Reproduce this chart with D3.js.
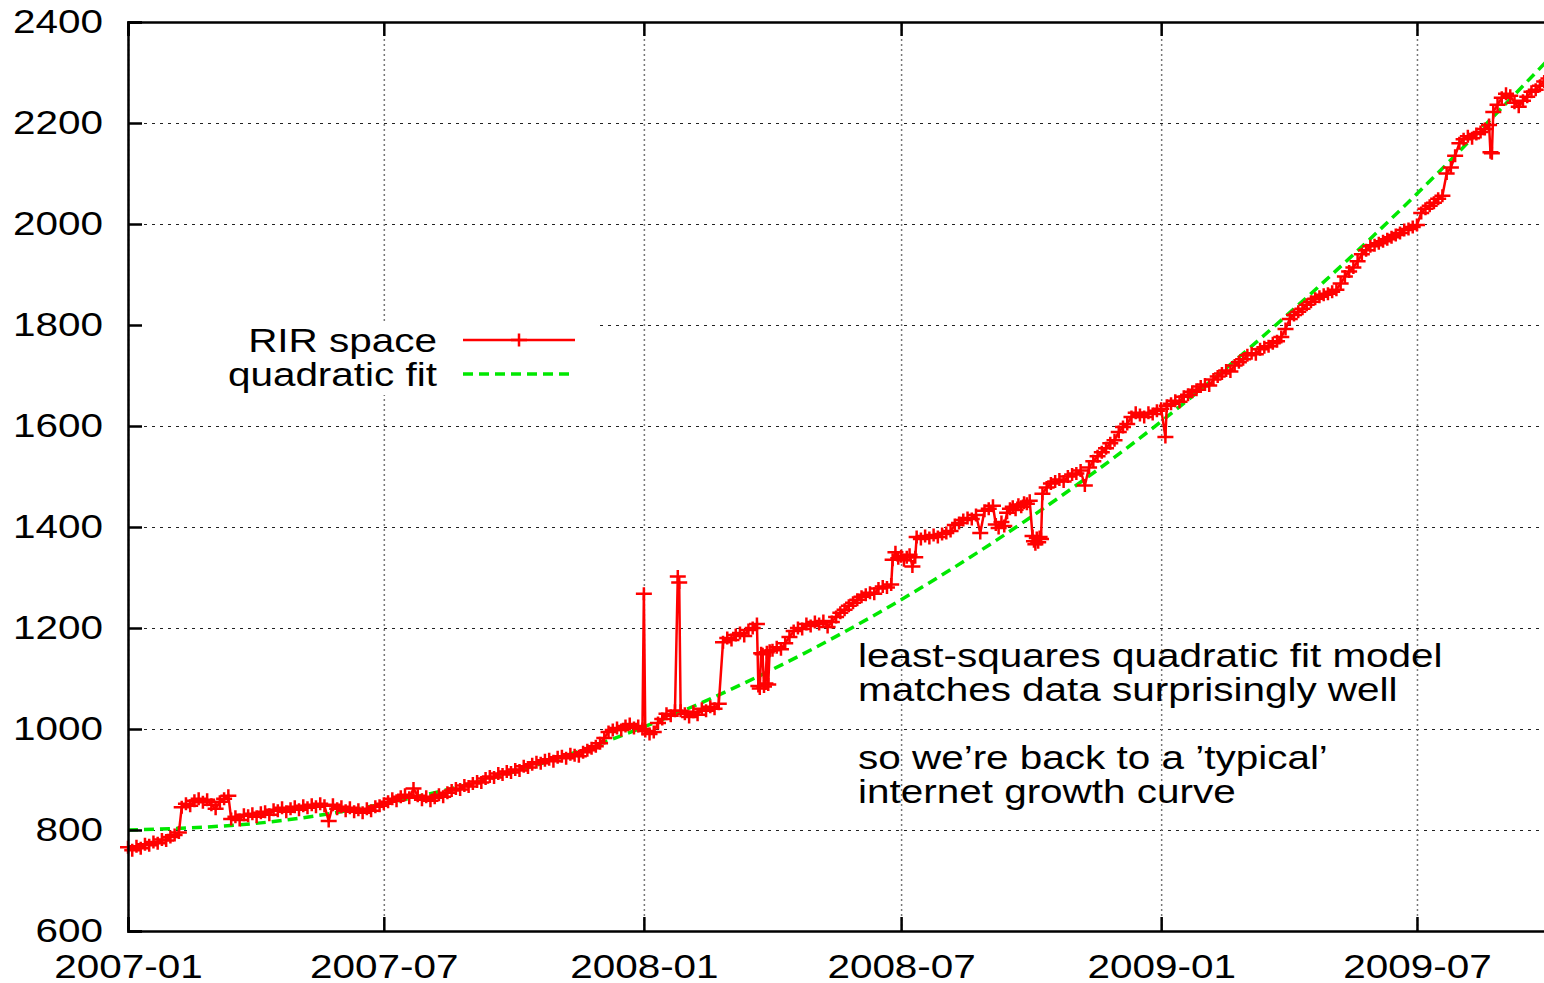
<!DOCTYPE html>
<html>
<head>
<meta charset="utf-8">
<script src="https://cdn.jsdelivr.net/npm/d3@7"></script>
<style>
    body { margin: 0; background: #fff; }
    text { font-family: "Liberation Sans", Arial, Helvetica, sans-serif; fill: #000; }
</style>
</head>
<body>
<script>
// RIR address space: each run starts on a day and
// has one reading every `step` days
const rirSegments = [
    {start: "2007-01-01", step: 3, values: [766, 760, 768, 764, 772, 770, 776, 774, 781, 779, 786, 790, 795]},
    {start: "2007-02-08", step: 3, values: [845, 852, 848, 858, 862, 855, 860, 850, 842, 856, 862, 868]},
    {start: "2007-03-15", step: 3, values: [
        822, 826, 820, 830, 828, 832,
        826, 834, 836, 830, 840, 838, 844, 836, 842, 846,
        840, 848, 844, 850, 846, 852, 848, 818, 850, 842,
        846, 838, 844, 836, 840, 834, 842, 838, 846, 848,
        852, 856, 862, 858, 866, 870, 864, 882, 868, 860, 866,
        858, 864, 870, 866, 874, 878, 882, 880, 888, 886,
        892, 896, 894, 902, 906, 904, 912, 910, 916, 914,
        920, 918, 926, 924, 930, 934, 932, 938, 940, 936,
        944, 946, 942, 950, 948, 946, 954, 958, 962, 966,
        972, 982, 994, 998, 1002, 998, 1006, 1010, 1002, 1006, 1000]},
    {start: "2008-01-01", step: 1, values: [1268]},
    {start: "2008-01-02", step: 3, values: [996, 990, 994, 1012, 1020, 1030, 1026, 1036]},
    {start: "2008-01-25", step: 1, values: [1302, 1290]},
    {start: "2008-01-27", step: 3, values: [1036, 1030, 1024, 1034, 1028, 1040, 1036, 1044, 1040, 1050]},
    {start: "2008-02-26", step: 3, values: [1172, 1180, 1176, 1186, 1190, 1184, 1196, 1200, 1208]},
    {start: "2008-03-22", step: 1, values: [1085, 1080, 1150, 1148, 1084, 1090, 1152, 1088, 1155]},
    {start: "2008-04-01", step: 3, values: [
        1156, 1162, 1158, 1170, 1182, 1194, 1200, 1198, 1208, 1204,
        1212, 1208, 1214, 1202, 1212, 1222, 1230, 1236, 1244, 1250, 1256,
        1262, 1266, 1270, 1268, 1278, 1282, 1280, 1286]},
    {start: "2008-06-25", step: 2, values: [1335, 1350, 1338, 1342, 1334, 1340, 1345, 1322, 1340]},
    {start: "2008-07-12", step: 3, values: [
        1380, 1376, 1382, 1378, 1384, 1380, 1386,
        1388, 1392, 1404, 1408, 1414, 1418, 1416, 1424, 1388, 1432, 1436, 1442]},
    {start: "2008-09-06", step: 2, values: [1405, 1398, 1410, 1402, 1428, 1436, 1440, 1434, 1444, 1440, 1448, 1446, 1452]},
    {start: "2008-10-02", step: 1, values: [1382, 1372, 1366, 1378, 1370, 1380, 1376]},
    {start: "2008-10-09", step: 3, values: [
        1466, 1478, 1486, 1490, 1494, 1490, 1500, 1504,
        1506, 1512, 1482, 1518, 1530, 1540, 1548, 1556, 1566, 1572,
        1588, 1598, 1604, 1618, 1626, 1622, 1618, 1626, 1624, 1630, 1634]},
    {start: "2009-01-04", step: 1, values: [1578]},
    {start: "2009-01-05", step: 3, values: [
        1640, 1644, 1650, 1648, 1658, 1662, 1668, 1672, 1678,
        1682, 1680, 1692, 1698, 1704, 1710, 1708, 1720, 1726, 1732,
        1740, 1744, 1742, 1752, 1756, 1758, 1764, 1768, 1776, 1792,
        1812, 1820, 1826, 1832, 1840, 1846, 1852, 1856, 1860, 1862,
        1866, 1870, 1882, 1896, 1906, 1914, 1926, 1940, 1948, 1956,
        1958, 1962, 1966, 1970, 1974, 1978, 1982, 1988, 1990, 1994,
        1998, 2022, 2030, 2036, 2042, 2050, 2056]},
    {start: "2009-07-22", step: 3, values: [2100, 2112, 2135, 2160, 2168, 2174, 2170, 2178, 2182, 2188, 2196]},
    {start: "2009-08-22", step: 1, values: [2142, 2140]},
    {start: "2009-08-24", step: 3, values: [2222, 2236, 2250, 2258, 2254, 2240, 2232, 2244, 2252, 2262, 2266, 2274, 2282, 2288]}
];

// quadratic fit
const fitDates = ["2007-01-01", "2007-04-01", "2007-07-01", "2007-10-01", "2008-01-01", "2008-04-01",
                  "2008-07-01", "2008-10-01", "2009-01-01", "2009-04-01", "2009-07-01", "2009-10-01"];
const fitValues = [800, 813, 852, 915, 1004, 1118, 1256, 1420, 1609, 1822, 2060, 2323];

const yTicks = [600, 800, 1000, 1200, 1400, 1600, 1800, 2000, 2200, 2400];
const xTickLabels = ["2007-01", "2007-07", "2008-01", "2008-07", "2009-01", "2009-07"];
const legendLabels = ["RIR space", "quadratic fit"];
const noteLines = ["least-squares quadratic fit model", "matches data surprisingly well", "",
                   "so we\u2019re back to a \u2019typical\u2019", "internet growth curve"];

const svgWidth = 1544;
const svgHeight = 983;
const margin = {top: 22, left: 128};
const chartWidth = 1419;
const chartHeight = 909;

const fontSize = 34;
const stretchX = 1.19;   // gnuplot text is wider than plain Liberation Sans
const red = '#ff0000';
const green = '#00e800';

const parseDay = d3.timeParse('%Y-%m-%d');
const parseMonth = d3.timeParse('%Y-%m');

window.onload = main;

function main() {
    const data = rirSegments.flatMap(seg => seg.values.map((v, i) => ({
        date: d3.timeDay.offset(parseDay(seg.start), i * seg.step),
        value: v
    })));
    const fit = fitDates.map((d, i) => ({date: parseDay(d), value: fitValues[i]}));
    render_data(data, fit);
}

function render_data(data, fit) {
    const svg = d3.select('body').append('svg')
        .attr('width', svgWidth)
        .attr('height', svgHeight);

    const g = svg.append('g')
        .attr('transform', `translate(${margin.left}, ${margin.top})`);

    const scaleX = d3.scaleTime()
        .domain([parseDay('2007-01-01'), parseDay('2009-10-01')])
        .range([0, chartWidth]);

    const scaleY = d3.scaleLinear()
        .domain([600, 2400])
        .range([chartHeight, 0]);

    svg.append('clipPath').attr('id', 'plot-clip')
        .append('rect')
        .attr('width', chartWidth)
        .attr('height', chartHeight);

    drawGrid(g, scaleX, scaleY);

    // legend box hides the grid behind it
    g.append('rect')
        .attr('x', 12)
        .attr('y', 300)
        .attr('width', 458)
        .attr('height', 73)
        .attr('fill', '#fff');

    // note text
    noteLines.forEach((line, i) => {
        g.append('text')
            .attr('transform', `translate(730, ${645 + i * 34}) scale(${stretchX}, 1)`)
            .attr('font-size', fontSize)
            .text(line);
    });

    // quadratic fit
    g.append('path')
        .datum(fit)
        .attr('clip-path', 'url(#plot-clip)')
        .attr('fill', 'none')
        .attr('stroke', green)
        .attr('stroke-width', 3.5)
        .attr('stroke-dasharray', '10,6')
        .attr('d', d3.line()
            .curve(d3.curveNatural)
            .x(d => scaleX(d.date))
            .y(d => scaleY(d.value)));

    // RIR space line + markers
    g.append('path')
        .datum(data)
        .attr('clip-path', 'url(#plot-clip)')
        .attr('fill', 'none')
        .attr('stroke', red)
        .attr('stroke-width', 2.5)
        .attr('d', d3.line()
            .x(d => scaleX(d.date))
            .y(d => scaleY(d.value)));

    g.selectAll('path.plus')
        .data(data)
        .join('path')
        .attr('class', 'plus')
        .attr('fill', 'none')
        .attr('stroke', red)
        .attr('stroke-width', 2.5)
        .attr('d', d => plusPath(scaleX(d.date), scaleY(d.value)));

    drawLegend(g);
    drawAxes(g, scaleX, scaleY);
}

// gnuplot's "+" point, a bit wider than tall like the rest of the picture
function plusPath(x, y) {
    const rx = 8, ry = 6.5;
    return `M${x - rx},${y}H${x + rx}M${x},${y - ry}V${y + ry}`;
}

function drawGrid(g, scaleX, scaleY) {
    const gridY = g.append('g')
        .call(d3.axisLeft(scaleY).tickValues(yTicks).tickSize(-chartWidth).tickFormat(''));
    gridY.select('.domain').remove();
    gridY.selectAll('line')
        .attr('stroke', '#222')
        .attr('stroke-width', 1)
        .attr('stroke-dasharray', '3,5');

    const gridX = g.append('g')
        .attr('transform', `translate(0, ${chartHeight})`)
        .call(d3.axisBottom(scaleX)
            .tickValues(xTickLabels.map(parseMonth))
            .tickSize(-chartHeight)
            .tickFormat(''));
    gridX.select('.domain').remove();
    gridX.selectAll('line')
        .attr('stroke', '#777')
        .attr('stroke-width', 1.5)
        .attr('stroke-dasharray', '2,3');
}

function drawLegend(g) {
    const rows = [
        {y: 318, color: red, dash: null, width: 2.5},
        {y: 352, color: green, dash: '10,6', width: 3.5}
    ];
    rows.forEach((r, i) => {
        g.append('text')
            .attr('transform', `translate(309, ${r.y + 12}) scale(${stretchX}, 1)`)
            .attr('text-anchor', 'end')
            .attr('font-size', fontSize)
            .text(legendLabels[i]);
        g.append('line')
            .attr('x1', 335)
            .attr('x2', 447)
            .attr('y1', r.y)
            .attr('y2', r.y)
            .attr('stroke', r.color)
            .attr('stroke-width', r.width)
            .attr('stroke-dasharray', r.dash);
    });
    g.append('path')
        .attr('fill', 'none')
        .attr('stroke', red)
        .attr('stroke-width', 2.5)
        .attr('d', plusPath(391, 318));
}

function drawAxes(g, scaleX, scaleY) {
    const tickValuesX = xTickLabels.map(parseMonth);

    const axisY = g.append('g')
        .call(d3.axisLeft(scaleY)
            .tickValues(yTicks)
            .tickSize(-14)
            .tickPadding(25 / stretchX)
            .tickFormat(d3.format('d')));
    styleAxis(axisY);

    const axisX = g.append('g')
        .attr('transform', `translate(0, ${chartHeight})`)
        .call(d3.axisBottom(scaleX)
            .tickValues(tickValuesX)
            .tickSize(-14)
            .tickPadding(23)
            .tickFormat(d3.timeFormat('%Y-%m')));
    styleAxis(axisX);

    // mirrored ticks on top border
    const axisTop = g.append('g')
        .call(d3.axisTop(scaleX)
            .tickValues(tickValuesX)
            .tickSize(-14)
            .tickFormat(''));
    styleAxis(axisTop);
}

function styleAxis(axis) {
    axis.select('.domain')
        .attr('stroke', '#000')
        .attr('stroke-width', 2.5);
    axis.selectAll('.tick line')
        .attr('stroke', '#000')
        .attr('stroke-width', 2.5);
    axis.selectAll('.tick text')
        .attr('font-size', fontSize)
        .attr('fill', '#000')
        .attr('transform', `scale(${stretchX}, 1)`);
}
</script>
</body>
</html>
